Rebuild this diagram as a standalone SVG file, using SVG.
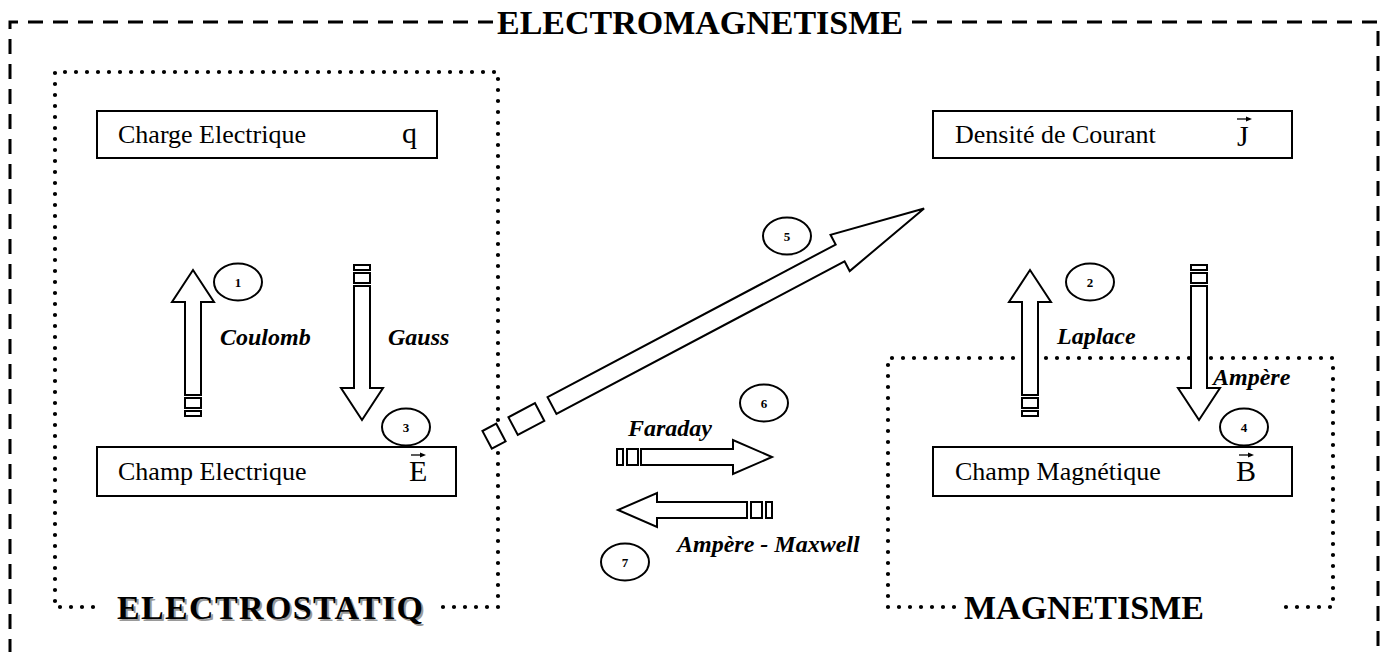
<svg xmlns="http://www.w3.org/2000/svg" width="1388" height="652" viewBox="0 0 1388 652">
<defs>
<style>
.frame{fill:none;stroke:#000;stroke-width:3;stroke-dasharray:15 10}
.dots{fill:none;stroke:#000;stroke-width:4.2;stroke-linecap:round;stroke-dasharray:0 11}
.box{fill:#fff;stroke:#000;stroke-width:2}
.arr{fill:#fff;stroke:#000;stroke-width:2;stroke-linejoin:miter}
.num{fill:#fff;stroke:#000;stroke-width:2}
.lbl{font-family:"Liberation Serif","Times New Roman",serif;font-size:26px;fill:#000}
.sym{font-family:"Liberation Serif","Times New Roman",serif;font-size:30px;fill:#000}
.law{font-family:"Liberation Serif","Times New Roman",serif;font-size:24px;font-weight:bold;font-style:italic;fill:#000}
.n{font-family:"Liberation Serif","Times New Roman",serif;font-size:13px;font-weight:bold;fill:#000;text-anchor:middle}
.big{font-family:"Liberation Serif","Times New Roman",serif;font-size:34px;font-weight:bold;fill:#000}
</style>
<g id="vec"><path d="M-7 0H5" stroke="#000" stroke-width="1.3"/><path d="M2 -2.5L8 0L2 2.5Z" fill="#000"/></g>
</defs>
<rect width="1388" height="652" fill="#fff"/>

<g id="frames">
<path class="frame" d="M493 22H10V652"/>
<path class="frame" d="M912 22H1378V652"/>
<text class="big" x="497" y="34" textLength="406" lengthAdjust="spacing">ELECTROMAGNETISME</text>
<path class="dots" d="M93 607H55V72H498V607H442"/>
<path class="dots" d="M954 607H888V358H1333V607H1284"/>
<text class="big" x="119" y="621" style="fill:#9a9a9a" textLength="306" lengthAdjust="spacing">ELECTROSTATIQ</text>
<text class="big" x="117" y="619" textLength="306" lengthAdjust="spacing">ELECTROSTATIQ</text>
<text class="big" x="964" y="619">MAGNETISME</text>
</g>

<g id="connectors">
<!-- 1 Coulomb up -->
<path class="arr" d="M185 395V302H172L193 270L214 302H201V395Z"/>
<rect class="arr" x="185" y="398" width="16" height="10"/>
<rect class="arr" x="185" y="411" width="16" height="5"/>
<!-- 3 Gauss down -->
<rect class="arr" x="354" y="265" width="16" height="5"/>
<rect class="arr" x="354" y="273" width="16" height="10"/>
<path class="arr" d="M354 286V388H341L362 420L383 388H370V286Z"/>
<!-- 2 Laplace up -->
<path class="arr" d="M1022 395V302H1009L1030 270L1051 302H1038V395Z"/>
<rect class="arr" x="1022" y="398" width="16" height="10"/>
<rect class="arr" x="1022" y="411" width="16" height="5"/>
<!-- 4 Ampere down -->
<rect class="arr" x="1191" y="265" width="16" height="5"/>
<rect class="arr" x="1191" y="273" width="16" height="10"/>
<path class="arr" d="M1191 286V388H1178L1199 420L1220 388H1207V286Z"/>
<!-- 5 diagonal -->
<g transform="translate(552 405.5) rotate(-27.9)">
<path class="arr" d="M0 -9.5H326V-20.5L421 0L326 20.5V9.5H0Z"/>
<rect class="arr" x="-44" y="-10" width="30" height="20"/>
<rect class="arr" x="-73.4" y="-10" width="15.6" height="20"/>
</g>
<!-- 6 Faraday right -->
<rect class="arr" x="617" y="449" width="6" height="16"/>
<rect class="arr" x="627" y="449" width="11" height="16"/>
<path class="arr" d="M641 449H733V440L772 457L733 474V465H641Z"/>
<!-- 7 Ampere-Maxwell left -->
<path class="arr" d="M747 502H657V493L618 510L657 527V518H747Z"/>
<rect class="arr" x="751" y="502" width="11" height="16"/>
<rect class="arr" x="766" y="502" width="6" height="16"/>
<text class="law" x="220" y="345">Coulomb</text>
<text class="law" x="388" y="345">Gauss</text>
<text class="law" x="1057" y="344">Laplace</text>
<text class="law" x="1213" y="385">Ampère</text>
<text class="law" x="628" y="436">Faraday</text>
<text class="law" x="677" y="552">Ampère - Maxwell</text>
</g>

<g id="n1"><ellipse class="num" cx="238" cy="282" rx="24" ry="18.5"/><text class="n" x="238" y="287">1</text></g>
<g id="n2"><ellipse class="num" cx="1090" cy="282" rx="24" ry="18.5"/><text class="n" x="1090" y="287">2</text></g>
<g id="n3"><ellipse class="num" cx="406" cy="427" rx="24" ry="18.5"/><text class="n" x="406" y="432">3</text></g>
<g id="n4"><ellipse class="num" cx="1244" cy="427" rx="24" ry="18.5"/><text class="n" x="1244" y="432">4</text></g>
<g id="n5"><ellipse class="num" cx="787" cy="236" rx="24" ry="18.5"/><text class="n" x="787" y="241">5</text></g>
<g id="n6"><ellipse class="num" cx="764" cy="403" rx="24" ry="18.5"/><text class="n" x="764" y="408">6</text></g>
<g id="n7"><ellipse class="num" cx="625" cy="562" rx="24" ry="18.5"/><text class="n" x="625" y="567">7</text></g>

<g id="charge">
<rect class="box" x="97" y="111" width="340" height="47"/>
<text class="lbl" x="118" y="143">Charge Electrique</text>
<text class="sym" x="402" y="143">q</text>
</g>
<g id="champE">
<rect class="box" x="97" y="447" width="359" height="49"/>
<text class="lbl" x="118" y="480">Champ Electrique</text>
<text class="sym" x="409" y="481">E</text>
<use href="#vec" x="418" y="455"/>
</g>
<g id="densite">
<rect class="box" x="933" y="111" width="359" height="47"/>
<text class="lbl" x="955" y="143">Densité de Courant</text>
<text class="sym" x="1237" y="146">J</text>
<use href="#vec" x="1244" y="119"/>
</g>
<g id="champB">
<rect class="box" x="933" y="447" width="359" height="49"/>
<text class="lbl" x="955" y="480">Champ Magnétique</text>
<text class="sym" x="1236" y="481">B</text>
<use href="#vec" x="1246" y="455"/>
</g>
</svg>
